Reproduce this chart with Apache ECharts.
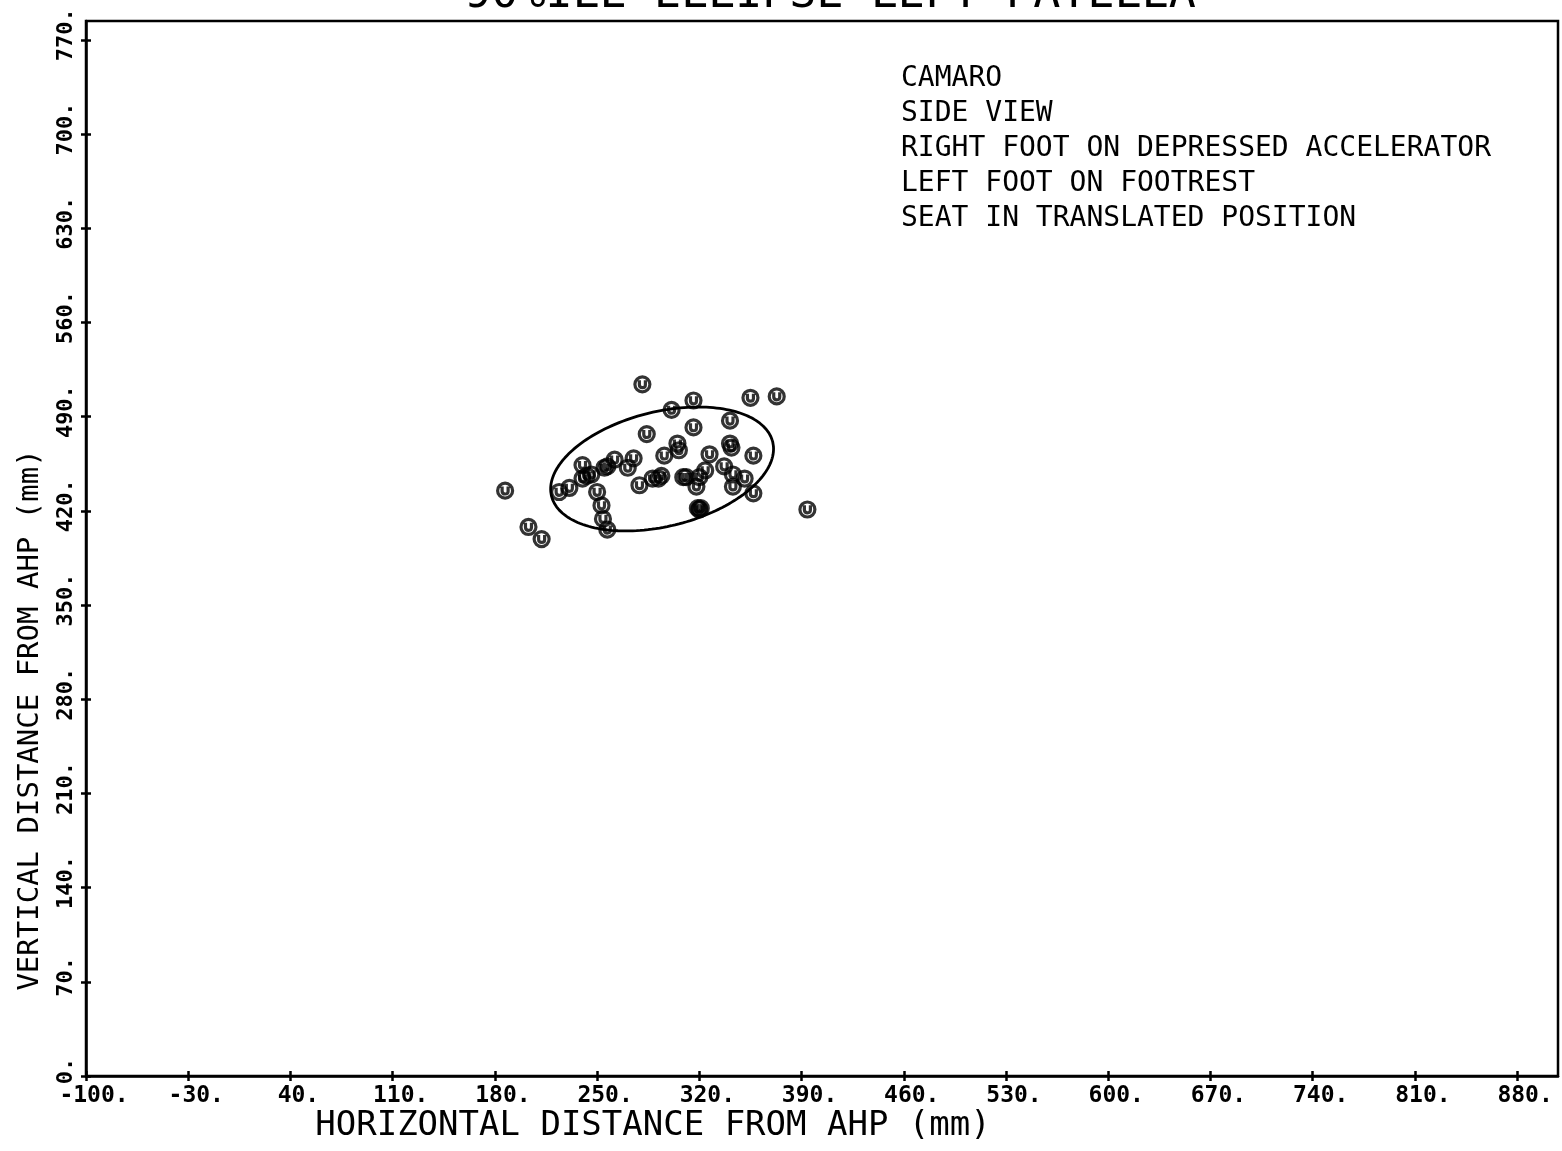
<!DOCTYPE html>
<html><head><meta charset="utf-8">
<script src="https://cdn.jsdelivr.net/npm/echarts@6/dist/echarts.min.js"></script>
<style>html,body{margin:0;padding:0;background:#fff}#c{width:1562px;height:1151px}</style>
</head><body><div id="c"></div>
<script>
const titleText = '90%ILE ELLIPSE LEFT PATELLA';
const notes = ['CAMARO', 'SIDE VIEW', 'RIGHT FOOT ON DEPRESSED ACCELERATOR', 'LEFT FOOT ON FOOTREST', 'SEAT IN TRANSLATED POSITION'];
const xAxisTitle = 'HORIZONTAL DISTANCE FROM AHP (mm)';
const yAxisTitle = 'VERTICAL DISTANCE FROM AHP (mm)';
const xTicks = [-100, -30, 40, 110, 180, 250, 320, 390, 460, 530, 600, 670, 740, 810, 880];
const yTicks = [0, 70, 140, 210, 280, 350, 420, 490, 560, 630, 700, 770];
const xRange = [-100, 908];
const yRange = [0, 784];
// left patella points (mm)
const patellaX = [281, 316, 301, 355, 373, 341, 316, 284, 305, 306, 341, 342, 327, 296, 357, 275, 262, 240, 271, 255, 257, 337, 324, 343, 351, 343, 357, 320, 309, 311, 318, 294, 292, 288, 279, 240, 243, 246, 231, 224, 250, 253, 254, 257, 187, 203, 212, 319, 321, 320, 394];
const patellaY = [514, 502, 495, 504, 505, 487, 482, 477, 470, 465, 470, 467, 462, 461, 461, 459, 458, 454, 452, 452, 453, 453, 450, 447, 444, 438, 433, 445, 445, 445, 438, 446, 444, 444, 439, 444, 446, 447, 437, 434, 434, 424, 414, 406, 435, 408, 399, 422, 422, 421, 421];
// 90%ile ellipse (data units)
const ellipseCenter = [294.5, 451.1];
const ellipseSemiAxes = [78.4, 42.4];
const ellipseAngleDeg = 15.8;

const ellipsePts = [];
{
  const th = ellipseAngleDeg * Math.PI / 180;
  for (let i = 0; i <= 180; i++) {
    const t = i / 180 * 2 * Math.PI;
    const a = ellipseSemiAxes[0], b = ellipseSemiAxes[1];
    ellipsePts.push([
      ellipseCenter[0] + a * Math.cos(t) * Math.cos(th) - b * Math.sin(t) * Math.sin(th),
      ellipseCenter[1] + a * Math.cos(t) * Math.sin(th) + b * Math.sin(t) * Math.cos(th)
    ]);
  }
}
const points = patellaX.map((x, i) => [x, patellaY[i]]);

const FONT = 'DejaVu Sans Mono';
const chart = echarts.init(document.getElementById('c'), null, {renderer: 'canvas'});
const markPath = 'path://M0,10A10,10,0,1,1,20,10A10,10,0,1,1,0,10Z M6,4.5L6,10.5Q6,14.5 10,14.5Q14,14.5 14,10.5L14,4.5';

const baseAxis = (range, ticks, isX) => ({
  type: 'value', min: range[0], max: range[1],
  axisLine: {show: true, onZero: false, lineStyle: {color: '#000', width: 2.5}},
  axisTick: {show: true, customValues: ticks, length: 5, lineStyle: {color: '#000', width: 2.5}},
  splitLine: {show: false},
  axisLabel: isX ? {
    customValues: ticks, formatter: v => v + '.', color: '#000',
    fontFamily: FONT, fontSize: 23, fontWeight: 'bold', margin: 9, align: 'center', padding: [0, 0, 0, 16]
  } : {
    customValues: ticks, formatter: v => v + '.', color: '#000', rotate: 90,
    fontFamily: FONT, fontSize: 22, fontWeight: 'bold', margin: 9, align: 'center', padding: [0, 0, 0, 10]
  }
});
const innerAxis = (range, ticks) => ({
  type: 'value', min: range[0], max: range[1],
  axisLine: {show: false, onZero: false}, splitLine: {show: false}, axisLabel: {show: false},
  axisTick: {show: true, inside: true, customValues: ticks, length: 5, lineStyle: {color: '#000', width: 2.5}}
});

const graphics = [
  {type: 'text', x: 830, y: -5, style: {text: titleText, font: '45px "' + FONT + '"', fill: '#000', textAlign: 'center', textVerticalAlign: 'middle'}},
  {type: 'text', x: 653, y: 1126, style: {text: xAxisTitle, font: '34px "' + FONT + '"', fill: '#000', textAlign: 'center', textVerticalAlign: 'middle'}},
  {type: 'text', x: 30, y: 720, rotation: Math.PI / 2, style: {text: yAxisTitle, font: '29px "' + FONT + '"', fill: '#000', textAlign: 'center', textVerticalAlign: 'middle'}}
];
notes.forEach((n, i) => graphics.push({type: 'text', x: 901, y: 79 + 35 * i, style: {text: n, font: '28px "' + FONT + '"', fill: '#000', textAlign: 'left', textVerticalAlign: 'middle'}}));

chart.setOption({
  backgroundColor: '#fff',
  animation: false,
  grid: {left: 86, right: 4, top: 21, bottom: 75, containLabel: false, outerBoundsMode: 'none',
         show: true, borderColor: '#000', borderWidth: 2.5, backgroundColor: 'transparent'},
  xAxis: [baseAxis(xRange, xTicks, true), Object.assign(innerAxis(xRange, xTicks), {position: 'bottom'})],
  yAxis: [baseAxis(yRange, yTicks, false), Object.assign(innerAxis(yRange, yTicks), {position: 'left'})],
  graphic: graphics,
  series: [
    {type: 'line', data: ellipsePts, showSymbol: false, smooth: false, silent: true,
     lineStyle: {color: '#000', width: 2.8}, xAxisIndex: 0, yAxisIndex: 0},
    {type: 'scatter', data: points, symbol: markPath, symbolSize: 15, silent: true,
     itemStyle: {color: 'rgba(0,0,0,0)', borderColor: '#000', borderWidth: 3.2},
     xAxisIndex: 0, yAxisIndex: 0}
  ]
});
</script></body></html>
